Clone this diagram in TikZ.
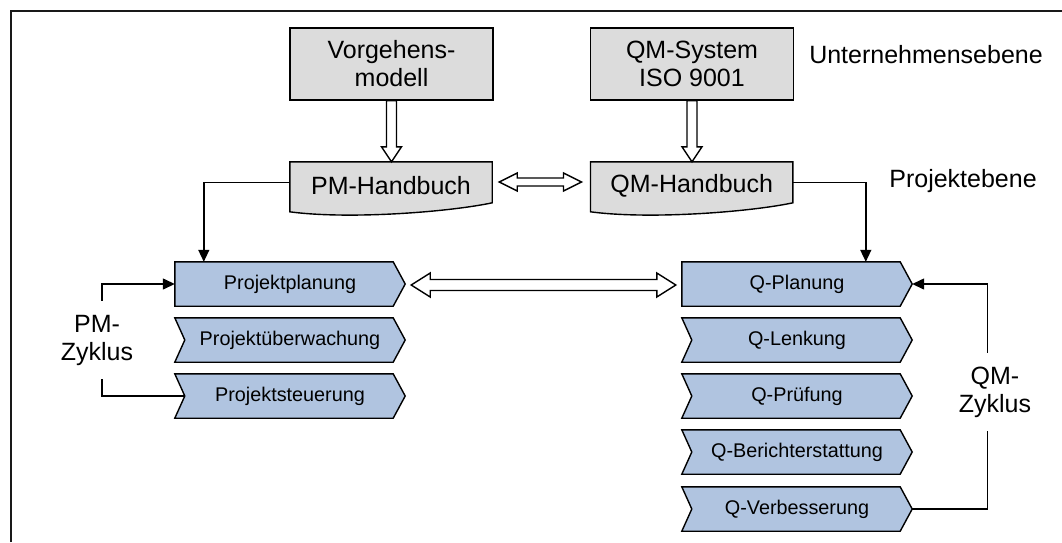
\documentclass[tikz,border=0pt]{standalone}
\usepackage{fontspec}
\setmainfont{Liberation Sans}
\usetikzlibrary{calc,arrows.meta,backgrounds}

\definecolor{boxgray}{RGB}{220,220,220}
\definecolor{stepblue}{RGB}{176,196,224}

% hollow block arrow pointing down, from #1 to the tip #2
\newcommand\downblock[2]{%
  \draw[blockarrow] let \p1=(#1), \p2=(#2) in
    (\x1-5pt,\y1) -- (\x1-5pt,\y2+15pt) -- (\x1-10pt,\y2+15pt) -- (\x1,\y2)
    -- (\x1+10pt,\y2+15pt) -- (\x1+5pt,\y2+15pt) -- (\x1+5pt,\y1) -- cycle;}

% hollow horizontal double arrow from tip #1 to tip #2
% #3 head length, #4 half head height, #5 half shaft height
\newcommand\dualblock[5]{%
  \draw[blockarrow] let \p1=(#1), \p2=(#2) in
    (\x1,\y1) -- (\x1+#3pt,\y1+#4pt) -- (\x1+#3pt,\y1+#5pt) -- (\x2-#3pt,\y1+#5pt)
    -- (\x2-#3pt,\y1+#4pt) -- (\x2,\y1) -- (\x2-#3pt,\y1-#4pt) -- (\x2-#3pt,\y1-#5pt)
    -- (\x1+#3pt,\y1-#5pt) -- (\x1+#3pt,\y1-#4pt) -- cycle;}

\begin{document}
\begin{tikzpicture}[x=1pt,y=-1pt,
  bigtext/.style={font=\fontsize{25}{28}\selectfont},
  steptext/.style={font=\fontsize{19.8}{23}\selectfont},
  levelbox/.style={draw=black, line width=1.4pt, fill=boxgray, minimum width=203pt,
    minimum height=72pt, inner sep=0pt, align=center, bigtext},
  manual/.style={minimum width=202pt, minimum height=48pt, inner sep=0pt, bigtext},
  stepnode/.style={minimum width=230pt, minimum height=44pt, inner sep=0pt, steptext},
  stepshape/.style={draw=black, line width=1.4pt, fill=stepblue, line join=miter},
  docshape/.style={draw=black, line width=1.4pt, fill=boxgray},
  conn/.style={draw=black, line width=1.4pt},
  tip/.style={-{Triangle[length=12pt,width=11pt]}},
  blockarrow/.style={draw=black, line width=1.4pt, fill=white, line join=miter},
  cyclelabel/.style={fill=white, align=center, bigtext, inner xsep=3pt, inner ysep=14pt},
]
\useasboundingbox (0,0) rectangle (1062,542);

% frame
\draw[line width=2pt, black!90] (11,542) -- (11,11) -- (1062,11);

% company level
\node[levelbox] (vm) at (391.5,64) {Vorgehens-\\modell};
\node[levelbox] (qs) at (692,64) {QM-System\\ISO 9001};
\node[bigtext] (ue) at (926,55) {Unternehmensebene};

% project level
\node[manual] (pmh) at (391,186) {PM-Handbuch};
\node[manual] (qmh) at (691.7,186) {QM-Handbuch};
\node[bigtext] (pe) at (963,181) {Projektebene};

% process steps
\node[stepnode] (pp)  at (290,284) {Projektplanung};
\node[stepnode] (pu)  at (290,340) {Projektüberwachung};
\node[stepnode] (pst) at (290,396) {Projektsteuerung};
\node[stepnode] (qp)  at (797,284) {Q-Planung};
\node[stepnode] (ql)  at (797,340) {Q-Lenkung};
\node[stepnode] (qpr) at (797,396) {Q-Prüfung};
\node[stepnode] (qb)  at (797,452) {Q-Berichterstattung};
\node[stepnode] (qv)  at (797,509) {Q-Verbesserung};

\begin{scope}[on background layer]
  % manuals with wavy bottom edge
  \foreach \n in {pmh,qmh}
    \draw[docshape] (\n.north west) -- (\n.north east) -- ($(\n.north east)+(0,41)$)
      .. controls ($(\n.north east)+(-42,50)$) and ($(\n.north west)+(60,58)$)
      .. ($(\n.north west)+(0,50)$) -- cycle;
  % first steps: flat left side
  \foreach \n in {pp,qp}
    \draw[stepshape] (\n.north west) -- ($(\n.north east)+(-12,0)$) -- (\n.east)
      -- ($(\n.south east)+(-12,0)$) -- (\n.south west) -- cycle;
  % following steps: notched left side
  \foreach \n in {pu,pst,ql,qpr,qb,qv}
    \draw[stepshape] (\n.north west) -- ($(\n.north east)+(-12,0)$) -- (\n.east)
      -- ($(\n.south east)+(-12,0)$) -- (\n.south west) -- ($(\n.west)+(10,0)$) -- cycle;
\end{scope}

% block arrows
\downblock{vm.south}{pmh.north}
\downblock{qs.south}{qmh.north}
\dualblock{$(pmh.east)+(7,-4)$}{$(qmh.west)+(-9,-4)$}{18}{9}{4}
\dualblock{$(pp.east)+(6,1)$}{$(qp.west)+(-6,1)$}{19}{12}{5.5}

% connectors
\draw[conn,tip] ($(pmh.west)+(0,-3.5)$) -| ($(pp.north west)+(29,0)$);
\draw[conn,tip] ($(qmh.east)+(0,-3.5)$) -| ($(qp.north west)+(184,0)$);
\draw[conn,tip] ($(pst.west)+(10,0)$) -- ++(-83,0) |- (pp.west);
\draw[conn,tip] (qv.east) -- ++(75,0) |- (qp.east);

% cycle labels
\node[cyclelabel] (pmc) at (97,340) {PM-\\Zyklus};
\node[cyclelabel] (qmc) at (995,392) {QM-\\Zyklus};
\end{tikzpicture}
\end{document}
